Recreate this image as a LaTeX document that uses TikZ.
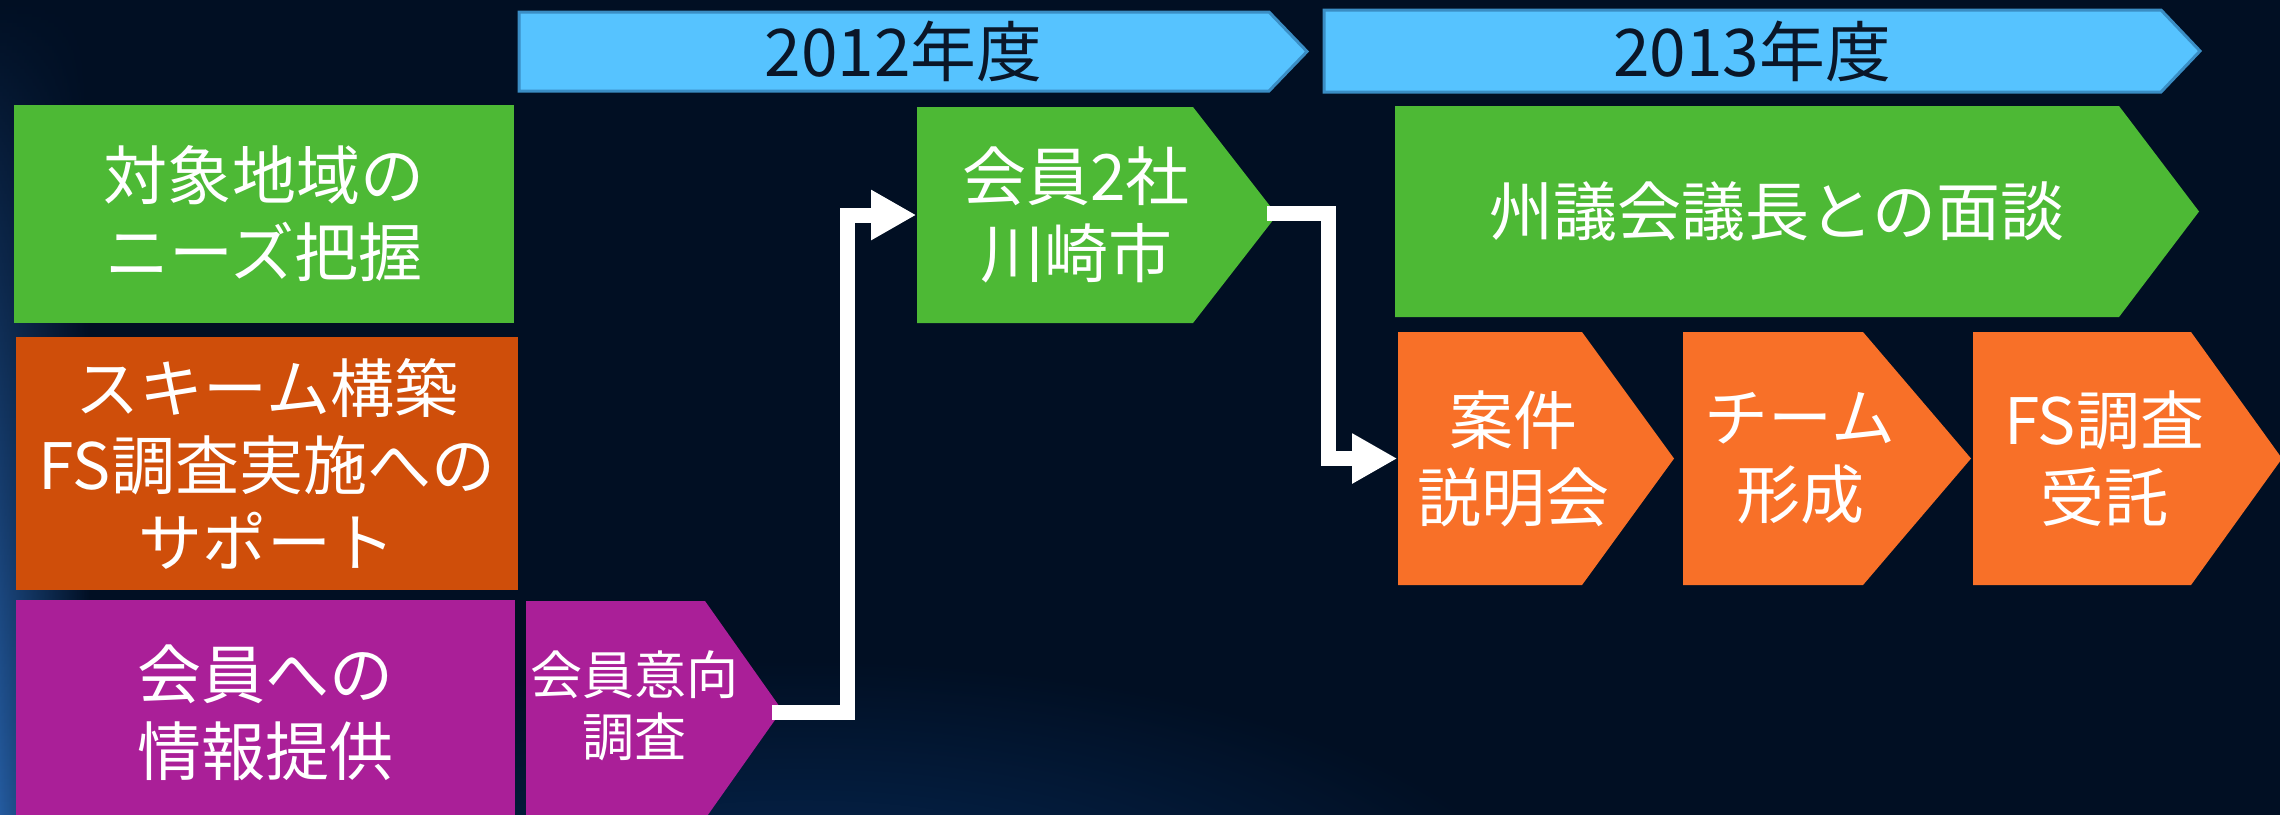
\documentclass[tikz,border=0pt]{standalone}
\usepackage{fontspec}
\setmainfont{Noto Sans CJK JP}
\usetikzlibrary{arrows.meta, fadings}
\definecolor{bgnavy}{RGB}{1,15,35}
\definecolor{edgeblue}{RGB}{45,110,190}
\definecolor{glowblue}{RGB}{6,42,88}
\definecolor{sky}{RGB}{86,195,255}
\definecolor{skyline}{RGB}{58,141,196}
\definecolor{inkdark}{RGB}{10,22,40}
\definecolor{leaf}{RGB}{77,185,53}
\definecolor{rust}{RGB}{207,78,10}
\definecolor{plum}{RGB}{170,31,152}
\definecolor{tangerine}{RGB}{248,112,40}
\tikzfading[name=fadeup, top color=transparent!100, bottom color=transparent!0]

\begin{document}
\begin{tikzpicture}[x=0.01cm, y=-0.01cm, font=\fontsize{18.2}{21.9}\selectfont, align=center]
	\tikzstyle{box}=[inner sep=0pt, text=white]
	\tikzstyle{year}=[inner sep=0pt, text=inkdark, font=\fontsize{18.7}{22}\selectfont]
	\tikzstyle{flow}=[draw=white, line width=0.15cm, -{Triangle[width=0.47cm, length=0.45cm]}]

	\useasboundingbox (0,0) rectangle (2280,814);
	\fill[bgnavy] (-20,-20) rectangle (2300,834);
	\shade[inner color=glowblue, outer color=bgnavy] (800,940) ellipse (7.5cm and 2.8cm);
	\shade[left color=edgeblue, right color=bgnavy, path fading=fadeup] (-20,0) rectangle (90,834);

	\fill[sky, draw=skyline, line width=0.03cm] (519,12) -- (1269,12) -- (1307,51.5) -- (1269,91) -- (519,91) -- cycle;
	\node[year] (y2012) at (903.5,51.5) {2012年度};
	\fill[sky, draw=skyline, line width=0.03cm] (1324,10) -- (2161,10) -- (2200,51) -- (2161,92) -- (1324,92) -- cycle;
	\node[year] (y2013) at (1752,51) {2013年度};

	\node[box, fill=leaf, minimum width=4.99cm, minimum height=2.18cm] (needs) at (264,214) {対象地域の\\ニーズ把握};
	\node[box, fill=rust, minimum width=5.02cm, minimum height=2.53cm] (scheme) at (267,463.5) {スキーム構築\\FS調査実施への\\サポート};
	\node[box, fill=plum, minimum width=4.99cm, minimum height=2.25cm] (info) at (265.5,712.5) {会員への\\情報提供};

	\fill[plum] (526,601) -- (705,601) -- (782,710) -- (705,819) -- (526,819) -- cycle;
	\node[box, font=\fontsize{14.8}{17.6}\selectfont] (survey) at (634.75,706) {会員意向\\調査};
	\fill[leaf] (917,107) -- (1193,107) -- (1277,215) -- (1193,323) -- (917,323) -- cycle;
	\node[box, minimum width=3.18cm, minimum height=2.16cm] (kawasaki) at (1076,215) {会員2社\\川崎市};
	\fill[leaf] (1395,106) -- (2119,106) -- (2199,211.5) -- (2119,317) -- (1395,317) -- cycle;
	\node[box] (gichou) at (1777,211.5) {州議会議長との面談};
	\fill[tangerine] (1398,332) -- (1582,332) -- (1674,458.5) -- (1582,585) -- (1398,585) -- cycle;
	\node[box, minimum width=2.30cm, minimum height=2.53cm] (anken) at (1513,458.5) {案件\\説明会};
	\fill[tangerine] (1683,332) -- (1863,332) -- (1971,458.5) -- (1863,585) -- (1683,585) -- cycle;
	\node[box] (team) at (1800,458.5) {チーム\\形成};
	\fill[tangerine] (1973,332) -- (2191,332) -- (2282,458.5) -- (2191,585) -- (1973,585) -- cycle;
	\node[box] (jutaku) at (2104,458.5) {FS調査\\受託};

	\coordinate (surveytip) at (782,712);
	\coordinate (kawasakitip) at (1277,213);
	\coordinate (bend1) at (847,0);
	\coordinate (bend2) at (1328,0);
	\draw[flow] ([xshift=-0.1cm]surveytip) -| (bend1 |- kawasaki.west) -- (kawasaki.west);
	\draw[flow] ([xshift=-0.1cm]kawasakitip) -| (bend2 |- anken.west) -- (anken.west);
\end{tikzpicture}
\end{document}
